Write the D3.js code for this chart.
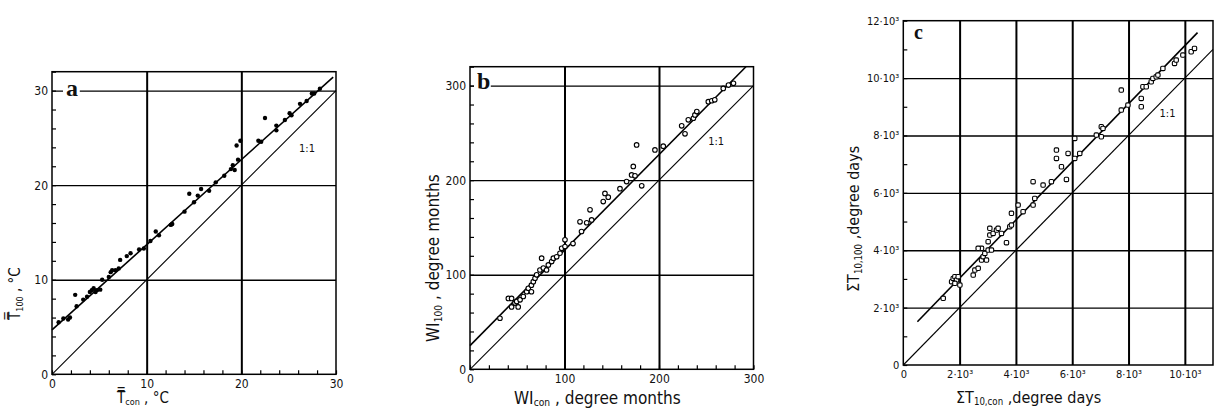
<!DOCTYPE html>
<html>
<head>
<meta charset="utf-8">
<script src="https://cdn.jsdelivr.net/npm/d3@7"></script>
<style>
  body { margin: 0; background: #fff; }
  svg { display: block; }
  text { font-family: "DejaVu Sans Condensed", "DejaVu Sans", sans-serif; fill: #111; }
</style>
</head>
<body>
<div id="chart"></div>
<script>
// panel a: mean temperature, filled dots
const pointsA = [
  [0.7,5.5],[1.2,5.9],[1.7,5.8],[1.9,6.0],[2.45,8.4],[2.6,7.2],[3.3,7.9],[3.7,8.2],
  [4.0,8.7],[4.2,8.9],[4.4,9.1],[4.6,8.7],[4.75,8.9],[5.1,8.95],[5.3,10.0],[6.0,10.3],
  [6.2,10.8],[6.35,11.0],[6.7,11.0],[7.05,11.2],[7.2,12.1],[7.9,12.5],[8.3,12.8],
  [9.2,13.2],[9.7,13.3],[10.4,14.1],[10.96,15.1],[11.3,14.7],[12.55,15.8],[12.7,15.9],
  [14.0,17.2],[14.5,19.1],[15.0,18.2],[15.4,18.9],[15.75,19.6],[16.6,19.4],[17.3,20.3],
  [18.2,21.0],[18.9,21.7],[19.1,22.1],[19.3,21.6],[19.65,22.7],[19.5,24.2],[19.9,24.7],
  [21.8,24.7],[22.1,24.6],[22.5,27.1],[23.7,26.3],[23.7,25.8],[24.6,26.9],[25.1,27.6],
  [25.3,27.4],[26.2,28.6],[26.9,28.9],[27.45,29.7],[27.7,29.7],[28.3,30.2]
];
// panel b: warmth index, open circles
const pointsB = [
  [31.7,54],[40.6,75],[44,75],[44,66],[47.6,70],[51,66],[49.4,71.8],[53,73.5],[56.4,77],
  [60,82],[61.7,85.7],[65,82],[65,89],[67,92.7],[68.8,96.3],[70.5,99.9],[74,105],
  [75.8,117.5],[77.6,107],[81,105],[82.9,110.4],[86.4,114],[88.2,117.5],[91.7,119],
  [95.2,122.7],[97,128],[100.5,129.8],[100.5,137],[109,133],[118,145.7],[116.4,156],
  [123.5,155],[127,168.6],[128.7,158],[141,177.4],[142.8,186],[146.3,182],[158.7,191],
  [165.7,198.5],[171,205.6],[172.8,214.5],[174.6,204.6],[181.7,194],[176.3,237.3],
  [195.7,232],[204.5,236],[224,257.5],[227.5,249],[231,263.8],[236.4,265.5],[238,269],
  [240,272.6],[252.2,283],[255.8,284],[259,285],[268,297],[273.5,300.6],[278.8,302.5]
];
// panel c: accumulated temperature above 10 degrees, open squares
const pointsC = [
  [1418,2323],[1716,2903],[1773,3019],[1832,3077],[1892,2961],[2010,2787],[1950,3077],
  [1832,2845],[2483,3135],[2542,3310],[2660,3368],[2778,3658],[2837,3774],[2778,4065],
  [2955,3658],[2896,3890],[3014,4006],[3132,4006],[2660,4065],[3014,4297],[3073,4529],
  [3191,4587],[3073,4762],[3310,4703],[3368,4762],[3487,4587],[3664,4262],[3782,4820],
  [3841,4878],[3841,5285],[4078,5575],[4255,5343],[4610,5575],[4669,5807],[4610,6388],
  [4965,6272],[5260,6388],[5794,6469],[5439,7491],[5439,7201],[5617,6910],[5853,7375],
  [6090,7201],[6267,7375],[6090,7897],[6856,8014],[7033,7956],[7033,8304],[7092,8246],
  [7742,8885],[7742,9582],[7979,9059],[8452,9292],[8452,9001],[8511,9698],[8629,9698],
  [8806,9872],[8865,9989],[8983,10047],[9043,10105],[9220,10337],[9634,10512],
  [9693,10628],[9930,10802],[10225,10918],[10343,11034]
];

// regression lines: [intercept, slope, xStart, xEnd]
const fitA = [4.7, 0.9, 0, 29.7];
const fitB = [25, 1.01, 0, 292];
const fitC = [1000, 1.013, 500, 10450];

// tick labels
const ticksA = [0, 10, 20, 30];
const ticksB = [0, 100, 200, 300];
const ticksCx = [0, 2000, 4000, 6000, 8000, 10000];
const ticksCy = [0, 2000, 4000, 6000, 8000, 10000, 12000];
const fmtC = d => d === 0 ? '0' : (d / 1000) + '\u00b710\u00b3';

const svg = d3.select('#chart').append('svg')
    .attr('width', 1216)
    .attr('height', 410);

const panels = [
  {
    letter: 'a', box: [52, 336, 71.7, 374.3], xDomain: [0, 30], yDomain: [0, 32],
    points: pointsA, fit: fitA, oneToOne: 30, mark: 'dot',
    xTicks: ticksA, yTicks: ticksA, fmt: d3.format('d'),
    xGrid: [10, 20], yGrid: [10, 20, 30], minor: 2, minorBottom: true,
    oneLabel: [26.1, 23.5],
    letterPos: [66, 96, 24],
    labelSize: 15,
    xLabel: ['T\u033F', 'con', ' ,  \u00b0C'], xLabelPos: [117, 403],
    yLabel: ['T\u033F', '100', ' ,  \u00b0C'], yLabelPos: [20, 320]
  },
  {
    letter: 'b', box: [470, 753.5, 66.7, 369.3], xDomain: [0, 300], yDomain: [0, 320],
    points: pointsB, fit: fitB, oneToOne: 300, mark: 'circle',
    xTicks: ticksB, yTicks: ticksB, fmt: d3.format('d'),
    xGrid: [100, 200], yGrid: [100, 200, 300], minor: 20, minorBottom: true,
    oneLabel: [252, 237],
    letterPos: [477, 89, 24],
    labelSize: 17,
    xLabel: ['WI', 'con', ' , degree months'], xLabelPos: [514, 404],
    yLabel: ['WI', '100', '  ,  degree months'], yLabelPos: [439, 342]
  },
  {
    letter: 'c', box: [903.3, 1213, 20.7, 365], xDomain: [0, 11000], yDomain: [0, 12000],
    points: pointsC, fit: fitC, oneToOne: 11000, mark: 'square',
    xTicks: ticksCx, yTicks: ticksCy, fmt: fmtC,
    xGrid: [2000, 4000, 6000, 8000, 10000], yGrid: [2000, 4000, 6000, 8000, 10000], minor: 1000, minorBottom: false,
    oneLabel: [9100, 8640],
    letterPos: [914, 39, 20],
    labelSize: 16,
    xLabel: ['\u03a3T', '10,con', ' ,degree days'], xLabelPos: [956, 403],
    yLabel: ['\u03a3T', '10,100', ' ,degree days'], yLabelPos: [859, 292]
  }
];

function drawPanel(p) {
  const [left, right, top, bottom] = p.box,
      w = right - left,
      h = bottom - top,
      g = svg.append('g').attr('transform', `translate(${left}, ${top})`);

  const x = d3.scaleLinear().domain(p.xDomain).range([0, w]),
      y = d3.scaleLinear().domain(p.yDomain).range([h, 0]);

  // grid
  g.append('g')
      .attr('transform', `translate(0, ${h})`)
      .call(d3.axisBottom(x).tickValues(p.xGrid).tickSize(-h).tickFormat(''))
      .call(a => a.select('.domain').remove())
      .call(a => a.selectAll('line').attr('stroke', '#000').attr('stroke-width', 2));
  g.append('g')
      .call(d3.axisLeft(y).tickValues(p.yGrid).tickSize(-w).tickFormat(''))
      .call(a => a.select('.domain').remove())
      .call(a => a.selectAll('line').attr('stroke', '#000').attr('stroke-width', 1.4));

  // frame
  g.append('rect')
      .attr('width', w)
      .attr('height', h)
      .attr('fill', 'none')
      .attr('stroke', '#000')
      .attr('stroke-width', 1.5);

  // minor ticks inside the frame
  const minorY = d3.range(p.yDomain[0], p.yDomain[1] + 0.001, p.minor);
  g.append('g')
      .call(d3.axisRight(y).tickValues(minorY).tickSize(4).tickFormat(''))
      .call(a => a.select('.domain').remove())
      .call(a => a.selectAll('line').attr('stroke', '#000').attr('stroke-width', 1.2));
  if (p.minorBottom) {
    const minorX = d3.range(p.xDomain[0], p.xDomain[1] + 0.001, p.minor);
    g.append('g')
        .attr('transform', `translate(0, ${h})`)
        .call(d3.axisTop(x).tickValues(minorX).tickSize(4).tickFormat(''))
        .call(a => a.select('.domain').remove())
        .call(a => a.selectAll('line').attr('stroke', '#000').attr('stroke-width', 1.2));
  }

  // tick labels
  const tickSize = p.letter === 'c' ? 11 : 12;
  g.append('g')
      .attr('transform', `translate(0, ${h})`)
      .call(d3.axisBottom(x).tickValues(p.xTicks).tickSize(0).tickPadding(5).tickFormat(p.fmt))
      .call(a => a.select('.domain').remove())
      .call(a => a.selectAll('text')
          .style('font-family', '"DejaVu Sans Condensed", sans-serif')
          .attr('font-size', tickSize)
          .attr('fill', '#111'));
  g.append('g')
      .call(d3.axisLeft(y).tickValues(p.yTicks).tickSize(0).tickPadding(4).tickFormat(p.fmt))
      .call(a => a.select('.domain').remove())
      .call(a => a.selectAll('text')
          .style('font-family', '"DejaVu Sans Condensed", sans-serif')
          .attr('font-size', tickSize)
          .attr('fill', '#111'));

  // 1:1 line
  g.append('line')
      .attr('x1', x(0)).attr('y1', y(0))
      .attr('x2', x(p.oneToOne)).attr('y2', y(p.oneToOne))
      .attr('stroke', '#000')
      .attr('stroke-width', 1.1);

  // regression line
  const [b0, b1, x0, x1] = p.fit;
  g.append('line')
      .attr('x1', x(x0)).attr('y1', y(b0 + b1 * x0))
      .attr('x2', x(x1)).attr('y2', y(b0 + b1 * x1))
      .attr('stroke', '#000')
      .attr('stroke-width', 1.6);

  g.append('text')
      .attr('x', x(p.oneLabel[0]))
      .attr('y', y(p.oneLabel[1]))
      .attr('font-size', 11)
      .text('1:1');

  // points
  const pts = g.append('g');
  if (p.mark === 'dot') {
    pts.selectAll('circle').data(p.points).enter().append('circle')
        .attr('cx', d => x(d[0]))
        .attr('cy', d => y(d[1]))
        .attr('r', 2.2)
        .attr('fill', '#000');
  } else if (p.mark === 'circle') {
    pts.selectAll('circle').data(p.points).enter().append('circle')
        .attr('cx', d => x(d[0]))
        .attr('cy', d => y(d[1]))
        .attr('r', 2.3)
        .attr('fill', '#fff')
        .attr('stroke', '#000')
        .attr('stroke-width', 1.1);
  } else {
    pts.selectAll('rect').data(p.points).enter().append('rect')
        .attr('x', d => x(d[0]) - 2.2)
        .attr('y', d => y(d[1]) - 2.2)
        .attr('width', 4.4)
        .attr('height', 4.4)
        .attr('rx', 1.2)
        .attr('fill', '#fff')
        .attr('stroke', '#000')
        .attr('stroke-width', 1.1);
  }

  // panel letter with white backing
  const [lx, ly, ls] = p.letterPos;
  svg.append('rect')
      .attr('x', lx - 3).attr('y', ly - ls * 0.75)
      .attr('width', ls * 0.7).attr('height', ls * 0.85)
      .attr('fill', '#fff');
  svg.append('text')
      .attr('x', lx).attr('y', ly)
      .style('font-family', '"Liberation Serif", "DejaVu Serif", serif')
      .attr('font-weight', 'bold')
      .attr('font-size', ls)
      .text(p.letter);

  // axis titles
  const xl = svg.append('text')
      .attr('x', p.xLabelPos[0]).attr('y', p.xLabelPos[1])
      .attr('font-size', p.labelSize);
  xl.append('tspan').text(p.xLabel[0]);
  xl.append('tspan').attr('font-size', p.labelSize * 0.6).attr('dy', 2).text(p.xLabel[1]);
  xl.append('tspan').attr('dy', -2).text(p.xLabel[2]);

  const yl = svg.append('text')
      .attr('transform', `translate(${p.yLabelPos[0]}, ${p.yLabelPos[1]}) rotate(-90)`)
      .attr('font-size', p.labelSize);
  yl.append('tspan').text(p.yLabel[0]);
  yl.append('tspan').attr('font-size', p.labelSize * 0.6).attr('dy', 3).text(p.yLabel[1]);
  yl.append('tspan').attr('dy', -3).text(p.yLabel[2]);
}

panels.forEach(drawPanel);
</script>
</body>
</html>
